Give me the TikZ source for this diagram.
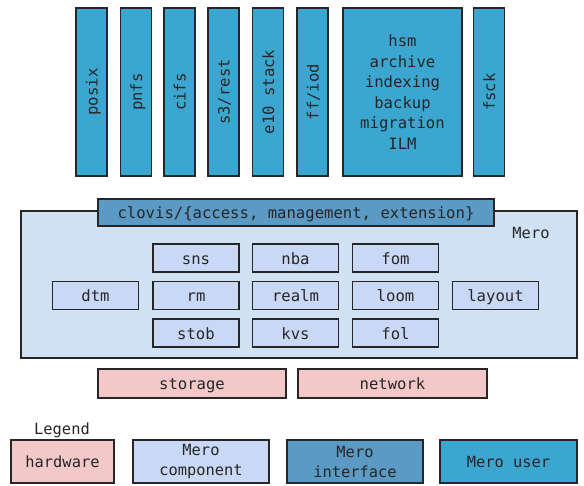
\documentclass[tikz,border=0pt]{standalone}
\usepackage{fontspec}
\setmonofont{DejaVu Sans Mono}
\usetikzlibrary{positioning}
\definecolor{hwFill}{RGB}{242,200,201}
\definecolor{compFill}{RGB}{201,217,245}
\definecolor{meroFill}{RGB}{208,225,243}
\definecolor{ifaceFill}{RGB}{90,154,196}
\definecolor{userFill}{RGB}{59,166,207}
\colorlet{edge}{black!85}
\tikzset{
  card/.style    ={draw=edge, line width=1.5pt, inner sep=2pt, align=center,
                   text=black!85, font=\ttfamily\fontsize{15.6}{20.6}\selectfont},
  oneline/.style ={text height=15pt, text depth=3pt},
  Lhw/.style     ={card, fill=hwFill},
  Lcomp/.style   ={card, oneline, fill=compFill, minimum width=86pt, minimum height=28pt},
  Liface/.style  ={card, fill=ifaceFill},
  Luser/.style   ={card, fill=userFill},
  Lstack/.style  ={Luser, oneline, rotate=90, minimum width=168pt, minimum height=31pt},
  Llegend/.style ={card, minimum width=136pt, minimum height=43pt,
                   font=\ttfamily\fontsize{15.4}{20}\selectfont},
}

\begin{document}
\begin{tikzpicture}[x=1pt, y=-1pt]
\useasboundingbox (0,0) rectangle (584,485);

% --- user stacks on top ---
\foreach \nm/\xc/\txt in {posix/91.5/posix, pnfs/136/pnfs, cifs/179.5/cifs,
                          sss/223.5/s3\slash rest, eten/268/e10 stack,
                          ffiod/312.5/ff\slash iod, fsck/489/fsck}
  \node[Lstack] (\nm) at (\xc, 92) {\txt};

\node[Luser, minimum width=119pt, minimum height=168pt] (hsm) at (402.5, 92)
     {hsm\\archive\\indexing\\backup\\migration\\ILM};

% --- Mero ---
\node[card, fill=meroFill, minimum width=556pt, minimum height=147pt]
     (mero) at (299, 284.5) {};
\node[Liface, oneline, minimum width=396pt, minimum height=27pt]
     (clovis) at (296, 212.5) {clovis/\{access, management, extension\}};
\node[font=\ttfamily\fontsize{15.4}{18}\selectfont, text=black!85]
     (merolbl) at (531, 233) {Mero};

% --- components ---
\node[Lcomp] (sns)    at (196,   258)   {sns};
\node[Lcomp] (nba)    at (295.5, 258)   {nba};
\node[Lcomp] (fom)    at (395.5, 258)   {fom};
\node[Lcomp] (dtm)    at (95.5,  295.5) {dtm};
\node[Lcomp] (rm)     at (196,   295.5) {rm};
\node[Lcomp] (realm)  at (295.5, 295.5) {realm};
\node[Lcomp] (loom)   at (395.5, 295.5) {loom};
\node[Lcomp] (layout) at (495.5, 295.5) {layout};
\node[Lcomp] (stob)   at (196,   333)   {stob};
\node[Lcomp] (kvs)    at (295.5, 333)   {kvs};
\node[Lcomp] (fol)    at (395.5, 333)   {fol};

% --- hardware ---
\node[Lhw, oneline, minimum width=188pt, minimum height=29pt] (storage) at (192, 383.5) {storage};
\node[Lhw, oneline, minimum width=189pt, minimum height=29pt] (network) at (392.5, 383.5) {network};

% --- legend ---
\node[font=\ttfamily\fontsize{15.4}{18}\selectfont, text=black!85]
     (legend) at (62, 430) {Legend};
\node[Llegend, oneline, fill=hwFill, minimum width=103pt] (lhw) at (62.5, 461.5) {hardware};
\node[Llegend, fill=compFill]  (lcomp)  at (201,   461.5) {Mero\\component};
\node[Llegend, fill=ifaceFill] (liface) at (355,   461.5) {Mero\\interface};
\node[Llegend, oneline, fill=userFill, minimum width=137pt] (luser) at (508.5, 461.5) {Mero user};

\end{tikzpicture}
\end{document}
